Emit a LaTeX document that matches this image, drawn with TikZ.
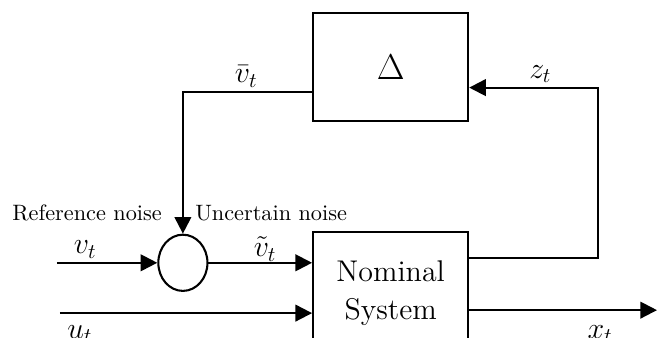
\documentclass[tikz,border=0pt]{standalone}
\usepackage{amsmath}
\usetikzlibrary{arrows.meta,calc,positioning,shapes.geometric}

\begin{document}
\begin{tikzpicture}[>={Triangle[length=8pt,width=8pt]},line join=miter,
  line width=1pt,
  blk/.style={draw,rectangle,minimum width=2.62cm,inner sep=0pt},
  sumnode/.style={draw,ellipse,minimum width=0.83cm,minimum height=0.95cm,inner sep=0pt},
  lbl/.style={font=\Large,inner sep=1pt},
  note/.style={font=\fontsize{10.7}{13}\selectfont,inner sep=1pt}]
\useasboundingbox (0,0) rectangle (11.10,5.71);
\clip (0,0) rectangle (11.10,5.71);
\fill[white] (0,0) rectangle (11.10,5.71);

% blocks
\node[blk,minimum height=1.82cm,font=\fontsize{18}{22}\selectfont] (delta) at (6.60,4.58) {$\Delta$};
\node[blk,minimum height=2.06cm,align=center,font=\fontsize{14.4}{18}\selectfont] (plant) at (6.60,0.76) {Nominal\\System};
\node[sumnode] (sum) at (3.09,1.27) {};

% free ends and corners
\coordinate (vin) at (0.96,1.27);
\coordinate (uin) at (1.01,0.42);
\coordinate (xout) at (11.10,0.47);
\coordinate (zs) at ($(plant.north east)+(0,-0.45)$);
\coordinate (zc) at (10.11,4.23);
\coordinate (vc) at (3.09,4.16);

% signals
\draw[->] (vin) -- (sum.west);
\draw[->] (sum.east) -- (sum.east -| plant.west);
\draw[->] (uin) -- (uin -| plant.west);
\draw[->] (plant.east |- xout) -- (xout);
\draw[->] (zs) -| (zc) -- (zc -| delta.east);
\draw[->] (vc -| delta.west) -- (vc) -- (sum.north);

% labels
\node[lbl] (lv) at (1.44,1.49) {$v_t$};
\node[lbl] (lvt) at (4.48,1.50) {$\tilde{v}_t$};
\node[lbl] (lu) at (1.35,0.07) {$u_t$};
\node[lbl] (lx) at (10.14,0.07) {$x_t$};
\node[lbl] (lz) at (9.13,4.46) {$z_t$};
\node[lbl] (lvb) at (4.16,4.42) {$\bar{v}_t$};
\node[note] (nref) at (1.47,2.11) {Reference noise};
\node[note] (nunc) at (4.58,2.11) {Uncertain noise};
\end{tikzpicture}
\end{document}
